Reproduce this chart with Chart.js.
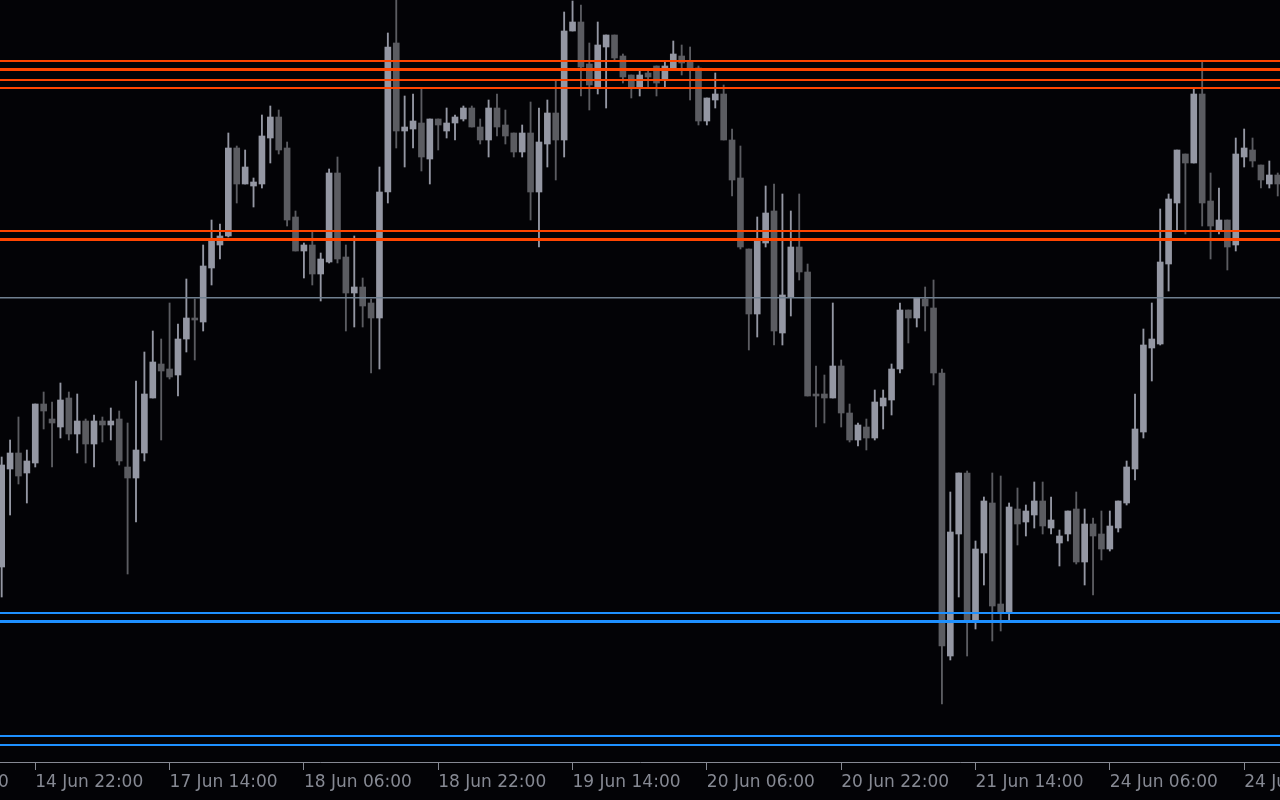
<!DOCTYPE html>
<html lang="en">
<head>
  <meta charset="UTF-8">
  <title>H1 Chart</title>
  <script src="https://cdn.jsdelivr.net/npm/chart.js"></script>
  <style>
    html, body { margin: 0; padding: 0; background: #030306; overflow: hidden; }
    .chart-container { width: 1280px; height: 800px; position: relative; }
  </style>
</head>
<body>
  <div class="chart-container"><canvas id="priceChart"></canvas></div>
  <script>
    // H1 candles, left to right. Price axis is off screen, so prices are in points
    const highs = [
      305, 322, 345, 312, 358, 370, 360, 379, 370, 368,
      343, 347, 345, 354, 351, 339, 381, 410, 431, 423,
      459, 438, 483, 463, 517, 542, 538, 629, 616, 612,
      584, 647, 656, 652, 620, 551, 519, 530, 509, 593,
      605, 517, 526, 484, 463, 595, 729, 762, 666, 668,
      673, 643, 643, 654, 647, 656, 656, 643, 662, 668,
      652, 629, 637, 660, 654, 662, 681, 750, 761, 757,
      719, 740, 727, 727, 708, 687, 691, 691, 696, 700,
      721, 717, 715, 696, 664, 689, 677, 633, 616, 513,
      545, 576, 578, 568, 551, 568, 498, 396, 387, 459,
      402, 358, 339, 343, 372, 372, 398, 459, 452, 464,
      475, 482, 393, 270, 289, 291, 221, 265, 289, 286,
      259, 274, 257, 280, 280, 265, 232, 251, 270, 253,
      244, 251, 251, 261, 301, 368, 433, 459, 553, 568,
      612, 608, 673, 700, 589, 574, 542, 624, 633, 624,
      597, 601, 589
    ];
    const opens = [
      195, 293, 309, 289, 299, 358, 343, 335, 364, 328,
      341, 318, 341, 337, 343, 295, 284, 309, 364, 398,
      393, 387, 423, 444, 440, 494, 517, 526, 614, 578,
      576, 578, 624, 645, 614, 545, 511, 517, 488, 500,
      589, 505, 469, 475, 459, 444, 570, 719, 631, 633,
      639, 603, 643, 631, 639, 643, 654, 635, 622, 654,
      637, 629, 610, 629, 570, 618, 649, 622, 731, 740,
      698, 675, 715, 727, 706, 687, 675, 689, 696, 683,
      694, 706, 700, 694, 641, 662, 668, 622, 584, 513,
      448, 519, 551, 429, 465, 515, 490, 368, 368, 364,
      396, 349, 322, 335, 324, 356, 362, 393, 452, 444,
      463, 454, 389, 106, 228, 289, 142, 209, 259, 158,
      150, 253, 240, 247, 261, 234, 219, 228, 253, 200,
      238, 228, 213, 234, 259, 293, 330, 414, 418, 498,
      559, 608, 599, 668, 561, 532, 542, 517, 605, 612,
      597, 578, 587
    ];
    const closes = [
      297, 309, 286, 301, 358, 351, 339, 362, 328, 341,
      318, 341, 337, 341, 301, 284, 312, 368, 400, 391,
      385, 423, 444, 442, 496, 521, 526, 614, 578, 595,
      580, 626, 645, 612, 542, 511, 517, 488, 503, 589,
      503, 469, 475, 456, 444, 570, 715, 631, 635, 641,
      605, 643, 637, 639, 645, 654, 635, 622, 654, 635,
      626, 610, 629, 570, 620, 649, 622, 731, 740, 695,
      677, 717, 727, 704, 685, 675, 687, 685, 679, 696,
      708, 699, 694, 641, 664, 668, 622, 582, 515, 448,
      521, 549, 431, 467, 515, 490, 366, 366, 364, 396,
      349, 322, 337, 324, 360, 364, 393, 452, 444, 464,
      456, 389, 116, 230, 289, 142, 213, 261, 156, 150,
      255, 238, 251, 261, 236, 242, 226, 251, 200, 238,
      226, 213, 236, 261, 295, 333, 417, 423, 500, 563,
      612, 599, 668, 559, 536, 542, 515, 608, 614, 601,
      582, 587, 578
    ];
    const lows = [
      165, 247, 278, 259, 295, 333, 295, 324, 322, 309,
      299, 295, 320, 322, 297, 188, 240, 301, 364, 322,
      383, 366, 410, 402, 431, 477, 503, 525, 559, 578,
      555, 574, 599, 608, 536, 511, 484, 477, 461, 499,
      499, 431, 435, 435, 389, 393, 559, 614, 595, 614,
      591, 578, 612, 624, 622, 641, 635, 618, 605, 626,
      618, 605, 605, 542, 515, 595, 582, 605, 731, 666,
      652, 668, 654, 702, 679, 664, 666, 675, 666, 675,
      694, 687, 662, 637, 637, 654, 622, 566, 513, 412,
      425, 515, 417, 417, 446, 482, 366, 335, 339, 364,
      335, 320, 316, 312, 322, 333, 347, 389, 419, 435,
      431, 377, 58, 102, 165, 106, 133, 177, 121, 131,
      142, 217, 226, 234, 228, 228, 196, 221, 198, 177,
      167, 202, 211, 230, 257, 282, 324, 381, 417, 471,
      532, 528, 599, 536, 503, 528, 492, 511, 595, 595,
      574, 574, 566
    ];

    // time axis: bar index of each labelled hour
    const tickBars = [-12, 4, 20, 36, 52, 68, 84, 100, 116, 132, 148];
    const tickLabels = ['14 Jun 06:00', '14 Jun 22:00', '17 Jun 14:00', '18 Jun 06:00', '18 Jun 22:00',
      '19 Jun 14:00', '20 Jun 06:00', '20 Jun 22:00', '21 Jun 14:00', '24 Jun 06:00', '24 Jun 22:00'];

    // horizontal levels
    const upperLevels = [701, 692.5, 682, 674];
    const middleLevels = [531, 522.5];
    const pivotLevel = 464.2;
    const supportLevels = [149, 140.5];
    const lowerLevels = [26, 17];

    const bullColor = '#9497a3';
    const bearColor = '#5b5c61';
    const axisColor = '#868993';
    const xMin = -0.2, xMax = 152.27;

    const candleColor = ctx => closes[ctx.dataIndex] > opens[ctx.dataIndex] ? bullColor : bearColor;

    function levelLine(value, color, width) {
      return {
        type: 'line',
        data: [{ x: xMin, y: value }, { x: xMax, y: value }],
        borderColor: color,
        borderWidth: width,
        pointRadius: 0,
        order: 0
      };
    }

    const levelSets = [
      ...upperLevels.map((v, i) => levelLine(v, '#ff4500', i === 1 ? 3 : 2)),
      ...middleLevels.map((v, i) => levelLine(v, '#ff4500', i === 1 ? 3 : 2)),
      levelLine(pivotLevel, '#708090', 1.5),
      ...supportLevels.map((v, i) => levelLine(v, '#1e90ff', i === 1 ? 3 : 2)),
      ...lowerLevels.map(v => levelLine(v, '#1e90ff', 2))
    ];

    new Chart(document.getElementById('priceChart'), {
      type: 'bar',
      data: {
        datasets: [
          ...levelSets,
          {
            // bodies
            data: opens.map((o, i) => ({ x: i, y: [Math.min(o, closes[i]), Math.max(o, closes[i])] })),
            backgroundColor: candleColor,
            barThickness: 6,
            minBarLength: 1,
            grouped: false,
            order: 1
          },
          {
            // wicks
            data: lows.map((l, i) => ({ x: i, y: [l, highs[i]] })),
            backgroundColor: candleColor,
            barThickness: 1.2,
            grouped: false,
            order: 2
          }
        ]
      },
      options: {
        responsive: true,
        maintainAspectRatio: false,
        animation: false,
        events: [],
        layout: { padding: 0 },
        plugins: { legend: { display: false }, tooltip: { enabled: false } },
        scales: {
          x: {
            type: 'linear',
            min: xMin,
            max: xMax,
            offset: false,
            grid: { offset: false, drawOnChartArea: false, drawTicks: true, tickLength: 8, color: axisColor },
            border: { display: true, color: axisColor, width: 1 },
            ticks: {
              autoSkip: false,
              maxRotation: 0,
              align: 'start',
              padding: 2,
              color: axisColor,
              font: { family: 'DejaVu Sans', size: 17 },
              callback: (value, index) => tickLabels[index]
            },
            afterBuildTicks: scale => { scale.ticks = tickBars.map(v => ({ value: v })); },
            afterFit: scale => {
              scale.height = 38;
              scale.paddingLeft = 0;
              scale.paddingRight = 0;
            }
          },
          y: {
            display: false,
            min: 0,
            max: 762
          }
        }
      }
    });
  </script>
</body>
</html>
